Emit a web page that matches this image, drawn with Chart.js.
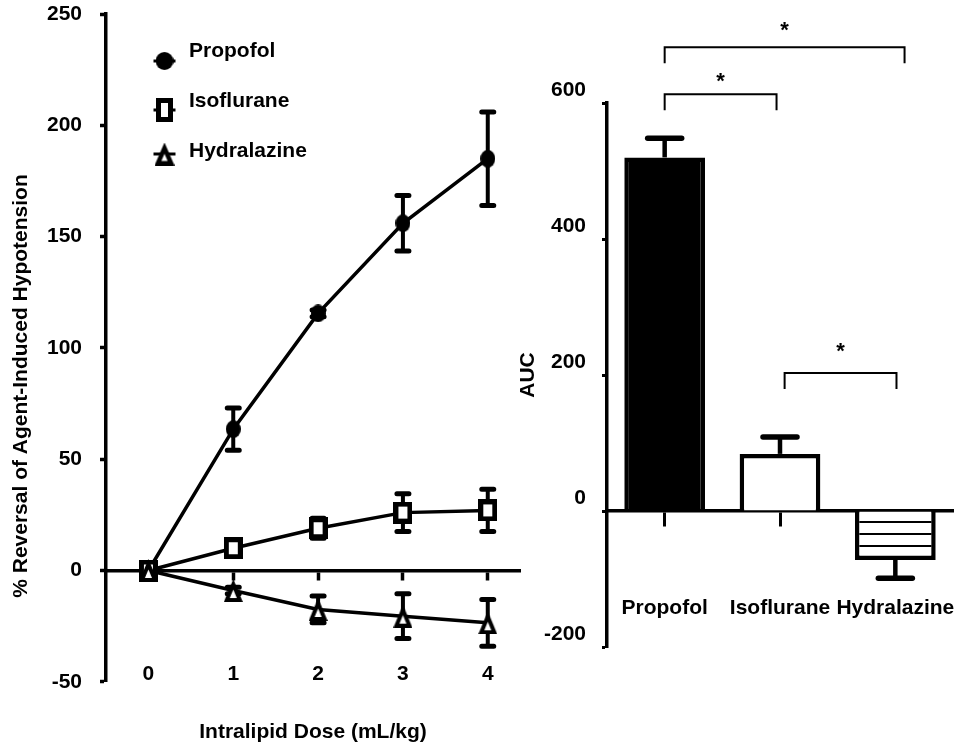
<!DOCTYPE html>
<html><head><meta charset="utf-8">
<script src="https://cdn.jsdelivr.net/npm/chart.js@4.4.1/dist/chart.umd.min.js"></script>
<style>
html,body{margin:0;padding:0;background:#fff;}
body{width:965px;height:746px;position:relative;overflow:hidden;}
#c1{position:absolute;left:0;top:0;}
#c2{position:absolute;left:510px;top:0;}
</style></head><body>
<canvas id="c1" width="522" height="746"></canvas>
<canvas id="c2" width="455" height="746"></canvas>
<script>
// ---------- data: left panel ----------
const doses = [0, 1, 2, 3, 4];
const seriesNames = ['Propofol', 'Isoflurane', 'Hydralazine'];
const propofolMean = [0, 63.5, 115.5, 156, 185];
const propofolErr = [0, 9.5, 1.5, 12.5, 21];
const isofluraneMean = [0, 10, 19, 26, 27];
const isofluraneErr = [0, 1.5, 4.5, 8.5, 9.5];
const hydralazineMean = [0, -9, -17.5, -20.5, -23.5];
const hydralazineErr = [0, 1.5, 6, 10, 10.5];
const leftYTicks = [-50, 0, 50, 100, 150, 200, 250];
const leftXTitle = 'Intralipid Dose (mL/kg)';
const leftYTitle = '% Reversal of Agent-Induced Hypotension';

// ---------- data: right panel ----------
const aucCategories = ['Propofol', 'Isoflurane', 'Hydralazine'];
const aucMean = [520, 84, -72];
const aucErr = [28, 25, 27];
const aucYTicks = [-200, 0, 200, 400, 600];
const aucTitle = 'AUC';
const sigFrom = [0, 0, 1.04];
const sigTo = [0.97, 2.08, 2.01];
const sigLevel = [613, 682, 203];
const sigStarLevel = [640, 716, 244];
const sigLabel = ['*', '*', '*'];

// ---------- styling ----------
const FONT = "'Liberation Sans', Arial, Helvetica, sans-serif";
Chart.defaults.font.family = FONT;
Chart.defaults.font.weight = 'bold';
Chart.defaults.font.size = 21;
Chart.defaults.color = '#000';

function makeEllipse(w, h) {
  const c = document.createElement('canvas'); c.width = w; c.height = h;
  const x = c.getContext('2d');
  x.fillStyle = '#000'; x.beginPath(); x.ellipse(w / 2, h / 2, w / 2, h / 2, 0, 0, Math.PI * 2); x.fill();
  return c;
}
function makeSquare(w, h, t) {
  const c = document.createElement('canvas'); c.width = w; c.height = h;
  const x = c.getContext('2d');
  x.fillStyle = '#000'; x.fillRect(0, 0, w, h);
  x.fillStyle = '#fff'; x.fillRect(t, t, w - 2 * t, h - 2 * t);
  return c;
}
function makeTriangle(w, h, t) {
  const c = document.createElement('canvas'); c.width = w; c.height = h;
  const x = c.getContext('2d');
  const A = [w / 2, 0], B = [w, h], C = [0, h];
  const d = (p, q) => Math.hypot(p[0] - q[0], p[1] - q[1]);
  x.fillStyle = '#000'; x.beginPath(); x.moveTo(A[0], A[1]); x.lineTo(B[0], B[1]); x.lineTo(C[0], C[1]); x.closePath(); x.fill();
  const a = d(B, C), b = d(A, C), cc = d(A, B), P = a + b + cc;
  const I = [(a * A[0] + b * B[0] + cc * C[0]) / P, (a * A[1] + b * B[1] + cc * C[1]) / P];
  const r = (w * h) / P; const k = Math.max(0, (r - t) / r);
  const s = p => [I[0] + (p[0] - I[0]) * k, I[1] + (p[1] - I[1]) * k];
  const a2 = s(A), b2 = s(B), c2 = s(C);
  x.fillStyle = '#fff'; x.beginPath(); x.moveTo(a2[0], a2[1]); x.lineTo(b2[0], b2[1]); x.lineTo(c2[0], c2[1]); x.closePath(); x.fill();
  return c;
}

const markers = [makeEllipse(15, 18), makeSquare(19, 22, 5), makeTriangle(19, 23, 4)];
const legendMarkers = [makeEllipse(18, 18), makeSquare(17, 24, 5), makeTriangle(20, 23, 4.5)];
const means = [propofolMean, isofluraneMean, hydralazineMean];
const errs = [propofolErr, isofluraneErr, hydralazineErr];

const zeroPad = s => { s.paddingLeft = 0; s.paddingRight = 0; s.paddingTop = 0; s.paddingBottom = 0; };

// ---------- left panel plugins ----------
const lineErrPlugin = {
  id: 'lineErr',
  beforeDatasetsDraw(chart) {
    const ctx = chart.ctx, ys = chart.scales.y;
    means.forEach((m, di) => {
      const meta = chart.getDatasetMeta(di);
      errs[di].forEach((e, i) => {
        if (!e) return;
        const px = meta.data[i].x;
        const yt = ys.getPixelForValue(m[i] + e), yb = ys.getPixelForValue(m[i] - e);
        ctx.save();
        ctx.strokeStyle = '#000';
        ctx.lineWidth = 4;
        ctx.beginPath(); ctx.moveTo(px, yt); ctx.lineTo(px, yb); ctx.stroke();
        ctx.lineWidth = 5; ctx.lineCap = 'round';
        ctx.beginPath();
        ctx.moveTo(px - 6, yt); ctx.lineTo(px + 6, yt);
        ctx.moveTo(px - 6, yb); ctx.lineTo(px + 6, yb);
        ctx.stroke();
        ctx.restore();
      });
    });
  }
};
const leftDecorPlugin = {
  id: 'leftDecor',
  afterDraw(chart) {
    const ctx = chart.ctx;
    ctx.save();
    ctx.fillStyle = '#000';
    ctx.font = 'bold 21px ' + FONT;
    // y title
    ctx.save();
    ctx.translate(27, 386);
    ctx.rotate(-Math.PI / 2);
    ctx.textAlign = 'center'; ctx.textBaseline = 'alphabetic';
    ctx.fillText(leftYTitle, 0, 0);
    ctx.restore();
    // legend
    const mx = 164.5, tx = 189;
    const markerY = [61, 110, 154];
    const textY = [57, 107, 157];
    seriesNames.forEach((name, i) => {
      ctx.strokeStyle = '#000'; ctx.lineWidth = 3;
      ctx.beginPath(); ctx.moveTo(mx - 11, markerY[i]); ctx.lineTo(mx + 11, markerY[i]); ctx.stroke();
      const im = legendMarkers[i];
      ctx.drawImage(im, mx - im.width / 2, markerY[i] - im.height / 2);
      ctx.textAlign = 'left'; ctx.textBaseline = 'alphabetic';
      ctx.fillText(name, tx, textY[i]);
    });
    ctx.restore();
  }
};

new Chart(document.getElementById('c1'), {
  type: 'line',
  data: {
    datasets: seriesNames.map((name, di) => ({
      label: name,
      data: doses.map((d, i) => ({ x: d, y: means[di][i] })),
      borderColor: '#000',
      borderWidth: 3.5,
      tension: 0,
      pointStyle: markers[di],
      pointRadius: 9,
      pointHoverRadius: 9,
      order: 3 - di,
      clip: false
    }))
  },
  options: {
    responsive: false,
    animation: false,
    devicePixelRatio: 1,
    layout: { autoPadding: false, padding: { left: 0, right: 2, top: 14, bottom: 0 } },
    plugins: {
      legend: { display: false },
      tooltip: { enabled: false },
      title: {
        display: true, text: leftXTitle, position: 'bottom', fullSize: false,
        color: '#000', font: { size: 21, weight: 'bold' },
        padding: { top: 38, bottom: 1 }
      }
    },
    scales: {
      x: {
        type: 'linear', min: -0.5, max: 4.38, position: { y: 0 },
        afterBuildTicks: s => { s.ticks = doses.map(v => ({ value: v })); },
        afterFit: zeroPad,
        grid: { drawOnChartArea: false, drawTicks: true, tickLength: 8, tickWidth: 3.5, tickColor: '#000', color: '#000' },
        border: { display: true, color: '#000', width: 3.5 },
        ticks: { padding: 83, color: '#000', font: { size: 21, weight: 'bold' }, maxRotation: 0, callback: v => String(v) }
      },
      y: {
        type: 'linear', min: -50, max: 250,
        afterBuildTicks: s => { s.ticks = leftYTicks.map(v => ({ value: v })); },
        afterFit: s => { zeroPad(s); s.width = 106; },
        grid: { drawOnChartArea: false, drawTicks: true, tickLength: 6, tickWidth: 3.5, tickColor: '#000', color: '#000' },
        border: { display: true, color: '#000', width: 3.5 },
        ticks: { padding: 18, color: '#000', font: { size: 21, weight: 'bold' } }
      }
    }
  },
  plugins: [lineErrPlugin, leftDecorPlugin]
});

// ---------- right panel ----------
const c2 = document.getElementById('c2');
function makeHatch(ctx) {
  const c = document.createElement('canvas'); c.width = 8; c.height = 12;
  const x = c.getContext('2d');
  x.fillStyle = '#fff'; x.fillRect(0, 0, 8, 12);
  x.fillStyle = '#000'; x.fillRect(0, 5, 8, 2);
  return ctx.createPattern(c, 'repeat');
}
const hatch = makeHatch(c2.getContext('2d'));

const barDecorPlugin = {
  id: 'barDecor',
  afterDatasetsDraw(chart) {
    const ctx = chart.ctx, ys = chart.scales.y, xs = chart.scales.x;
    const meta = chart.getDatasetMeta(0);
    ctx.save();
    ctx.strokeStyle = '#000'; ctx.fillStyle = '#000';
    aucMean.forEach((m, i) => {
      const px = meta.data[i].x;
      const end = m + Math.sign(m) * aucErr[i];
      const y0 = ys.getPixelForValue(m), y1 = ys.getPixelForValue(end);
      ctx.lineCap = 'butt'; ctx.lineWidth = 4.5;
      ctx.beginPath(); ctx.moveTo(px, y0); ctx.lineTo(px, y1); ctx.stroke();
      ctx.lineCap = 'round'; ctx.lineWidth = 5.5;
      ctx.beginPath(); ctx.moveTo(px - 17, y1); ctx.lineTo(px + 17, y1); ctx.stroke();
    });
    // significance brackets
    ctx.lineCap = 'butt'; ctx.lineWidth = 2;
    ctx.font = 'bold 22px ' + FONT;
    ctx.textAlign = 'center'; ctx.textBaseline = 'alphabetic';
    sigLevel.forEach((lv, i) => {
      const x1 = xs.getPixelForValue(sigFrom[i]), x2 = xs.getPixelForValue(sigTo[i]);
      const y = ys.getPixelForValue(lv);
      ctx.beginPath();
      ctx.moveTo(x1, y + 16); ctx.lineTo(x1, y); ctx.lineTo(x2, y); ctx.lineTo(x2, y + 16);
      ctx.stroke();
      const sy = ys.getPixelForValue(sigStarLevel[i]);
      ctx.fillText(sigLabel[i], (x1 + x2) / 2, sy + 12.5);
    });
    ctx.restore();
  }
};

new Chart(c2, {
  type: 'bar',
  data: {
    labels: aucCategories,
    datasets: [{
      data: aucMean,
      backgroundColor: ['#000', '#fff', hatch],
      borderColor: '#000',
      borderWidth: 4.5,
      barPercentage: 0.7,
      categoryPercentage: 1.0
    }]
  },
  options: {
    responsive: false,
    animation: false,
    devicePixelRatio: 1,
    layout: { autoPadding: false, padding: { left: 0, right: 12, top: 103, bottom: 99 } },
    plugins: { legend: { display: false }, tooltip: { enabled: false } },
    scales: {
      x: {
        type: 'category', offset: true, position: { y: 0 },
        afterFit: zeroPad,
        grid: { offset: false, drawOnChartArea: false, drawTicks: true, tickLength: 14, tickWidth: 3, tickColor: '#000', color: '#000' },
        border: { display: true, color: '#000', width: 3.5 },
        ticks: { padding: 71, color: '#000', font: { size: 21, weight: 'bold' }, maxRotation: 0, autoSkip: false }
      },
      y: {
        type: 'linear', min: -200, max: 600,
        afterBuildTicks: s => { s.ticks = aucYTicks.map(v => ({ value: v })); },
        afterFit: s => { zeroPad(s); s.width = 97; },
        grid: { drawOnChartArea: false, drawTicks: true, tickLength: 5, tickWidth: 3, tickColor: '#000', color: '#000' },
        border: { display: true, color: '#000', width: 3.5 },
        ticks: { padding: 16, labelOffset: -12.5, color: '#000', font: { size: 21, weight: 'bold' } },
        title: { display: true, text: aucTitle, color: '#000', font: { size: 21, weight: 'bold' }, padding: { top: 6, bottom: 0 } }
      }
    }
  },
  plugins: [barDecorPlugin]
});
</script>
</body></html>
